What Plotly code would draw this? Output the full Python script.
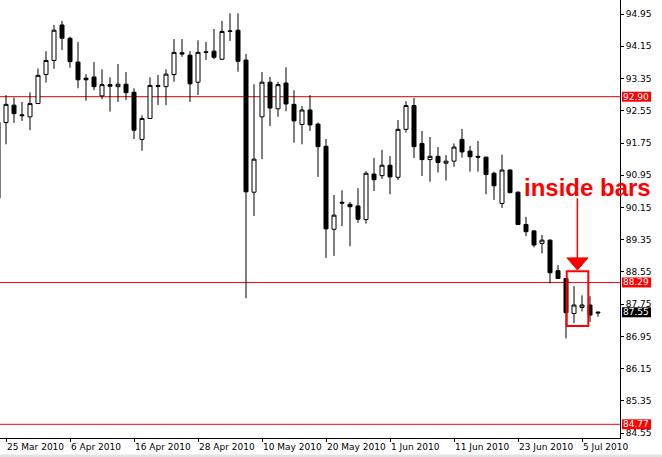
import pandas as pd
import plotly.graph_objects as go

# ---------------- data (USD/JPY daily) ----------------
dates = pd.bdate_range("2010-03-24", "2010-07-07")

opens = [90.38, 92.26, 92.69, 92.45, 92.40, 92.73, 93.45, 93.80, 94.68, 94.35,
         93.76, 93.36, 93.39, 92.92, 93.20, 93.15, 93.21, 93.01, 91.84, 92.36,
         93.18, 93.15, 93.45, 93.99, 93.93, 93.26, 94.00, 94.03, 93.83, 94.52,
         94.55, 93.81, 90.53, 92.40, 93.26, 92.60, 93.24, 92.71, 92.21, 92.57,
         92.22, 91.67, 89.61, 90.28, 90.23, 90.19, 89.85, 90.98, 90.94, 91.20,
         90.90, 92.09, 92.68, 91.74, 91.34, 91.42, 91.25, 91.30, 91.84, 91.55,
         91.42, 91.40, 91.00, 90.25, 91.08, 90.53, 89.73, 89.57, 89.26, 89.34,
         88.58, 88.39, 87.52, 87.67, 87.73, 87.53]
highs = [92.35, 92.94, 92.88, 92.77, 93.01, 93.60, 94.03, 94.68, 94.78, 94.39,
         94.26, 93.46, 93.76, 93.58, 93.38, 93.71, 93.51, 93.11, 92.44, 93.38,
         93.44, 93.58, 94.33, 94.33, 94.03, 94.30, 94.26, 94.58, 94.78, 94.97,
         94.97, 93.96, 93.21, 93.51, 93.39, 93.27, 93.63, 93.06, 92.67, 92.94,
         92.26, 91.85, 90.46, 90.58, 90.29, 90.63, 91.05, 91.38, 91.58, 91.43,
         92.32, 92.79, 92.87, 92.05, 91.90, 91.65, 91.45, 91.74, 92.10, 91.68,
         91.80, 91.41, 91.04, 91.46, 91.10, 90.55, 89.92, 89.58, 89.47, 89.36,
         88.72, 88.40, 88.20, 87.97, 87.95, 87.57]
lows = [90.30, 91.72, 92.25, 92.30, 92.07, 92.72, 93.25, 93.59, 94.06, 93.62,
        93.11, 92.80, 93.06, 92.84, 92.53, 92.77, 92.82, 91.85, 91.56, 92.35,
        92.69, 92.69, 93.27, 93.89, 92.77, 92.94, 93.81, 93.83, 93.81, 94.28,
        93.52, 87.90, 89.94, 91.35, 92.17, 92.40, 92.54, 91.76, 91.72, 92.05,
        90.91, 88.90, 88.95, 89.69, 89.19, 89.77, 89.75, 90.56, 90.86, 90.48,
        90.83, 92.01, 91.38, 90.93, 90.79, 91.02, 90.82, 91.16, 91.39, 91.04,
        91.04, 90.48, 90.34, 90.14, 90.50, 89.72, 89.44, 89.16, 89.01, 88.27,
        88.38, 86.90, 87.28, 87.57, 87.31, 87.44]
closes = [92.27, 92.71, 92.48, 92.43, 92.73, 93.43, 93.80, 94.55, 94.35, 93.77,
          93.32, 93.32, 93.15, 93.20, 93.16, 93.21, 93.00, 92.07, 92.36, 93.18,
          93.16, 93.46, 94.00, 93.96, 93.22, 94.00, 94.01, 93.88, 94.52, 94.53,
          93.78, 90.54, 91.35, 93.26, 92.62, 93.20, 92.72, 92.30, 92.57, 92.20,
          91.66, 89.62, 89.96, 90.26, 90.17, 89.86, 91.00, 90.84, 91.20, 90.91,
          92.09, 92.68, 91.66, 91.34, 91.42, 91.27, 91.30, 91.65, 91.53, 91.41,
          91.40, 90.97, 90.69, 91.08, 90.52, 89.73, 89.55, 89.22, 89.34, 88.53,
          88.39, 87.54, 87.73, 87.73, 87.48, 87.55]

tick_labels = ["25 Mar 2010", "6 Apr 2010", "16 Apr 2010", "28 Apr 2010",
               "10 May 2010", "20 May 2010", "1 Jun 2010", "11 Jun 2010",
               "23 Jun 2010", "5 Jul 2010"]
price_ticks = [84.55, 85.35, 86.15, 86.95, 87.75, 88.55, 89.35, 90.15,
               90.95, 91.75, 92.55, 93.35, 94.15, 94.95]
level_values = [92.90, 88.29, 84.77]
level_colors = ["#d40000", "#ff0000", "#ff0000"]

# ---------------- build ----------------
date_text = [f"{d.day} {d.strftime('%b %Y')}" for d in dates]
pos = list(range(len(dates)))
tick_pos = [date_text.index(t) for t in tick_labels]

FONT = "DejaVu Sans"

fig = go.Figure()
fig.add_trace(go.Candlestick(
    x=pos, open=opens, high=highs, low=lows, close=closes,
    increasing=dict(line=dict(color="black", width=1), fillcolor="white"),
    decreasing=dict(line=dict(color="black", width=1), fillcolor="black"),
    whiskerwidth=0, showlegend=False, hoverinfo="skip",
))

shapes = []
annotations = []

# horizontal levels + their price tags on the axis
LBL_H = 0.124
for v, c in zip(level_values, level_colors):
    shapes.append(dict(type="line", xref="paper", x0=0, x1=1, yref="y", y0=v, y1=v,
                       line=dict(color=c, width=1), layer="below"))
    shapes.append(dict(type="rect", xref="paper", x0=1.0032, x1=1.050,
                       yref="y", y0=v - LBL_H, y1=v + LBL_H,
                       fillcolor="#ff0000", line=dict(width=0), layer="above"))
    annotations.append(dict(xref="paper", x=1.0266, yref="y", y=v, text=f"{v:.2f}",
                            showarrow=False, xanchor="center", yanchor="middle",
                            font=dict(family=FONT, size=9, color="white")))

# current price tag
last = closes[-1]
shapes.append(dict(type="rect", xref="paper", x0=1.0032, x1=1.050,
                   yref="y", y0=last - LBL_H, y1=last + LBL_H,
                   fillcolor="black", line=dict(width=0), layer="above"))
annotations.append(dict(xref="paper", x=1.0266, yref="y", y=last, text=f"{last:.2f}",
                        showarrow=False, xanchor="center", yanchor="middle",
                        font=dict(family=FONT, size=9, color="white")))

# inside-bars box, arrow and caption
shapes.append(dict(type="rect", xref="x", yref="y", x0=71.09, x1=73.79, y0=87.21, y1=88.57,
                   line=dict(color="#ff0000", width=2), fillcolor="rgba(0,0,0,0)",
                   layer="above"))
shapes.append(dict(type="line", xref="x", yref="y", x0=72.42, x1=72.42, y0=90.38, y1=88.88,
                   line=dict(color="#ff0000", width=1.5), layer="above"))
shapes.append(dict(type="path", xref="x", yref="y",
                   path="M 71.12,88.90 L 73.75,88.90 L 72.43,88.60 Z",
                   fillcolor="#ff0000", line=dict(color="#ff0000", width=1), layer="above"))
annotations.append(dict(xref="x", yref="y", x=73.7, y=90.65, text="<b>inside bars</b>",
                        showarrow=False, xanchor="center", yanchor="middle",
                        font=dict(family="Liberation Sans", size=24, color="#ff0000")))

# window frame (light grey strip at bottom)
shapes.append(dict(type="line", xref="paper", yref="paper", x0=0, x1=1.07,
                   y0=-0.0411, y1=-0.0411, line=dict(color="#e3e3e3", width=3), layer="above"))

fig.update_layout(
    width=662, height=457,
    margin=dict(l=0, r=42, t=0, b=19, autoexpand=False),
    paper_bgcolor="white", plot_bgcolor="white",
    boxgap=0.5, boxgroupgap=0,
    showlegend=False,
    shapes=shapes, annotations=annotations,
    xaxis=dict(range=[0.25, 77.75], tickmode="array", tickvals=tick_pos, ticktext=tick_labels,
               tickangle=0, automargin=False,
               ticks="outside", ticklen=3, tickcolor="black", tickwidth=1,
               ticklabelposition="outside right",
               showgrid=False, zeroline=False, showline=True, linecolor="black", linewidth=1,
               rangeslider=dict(visible=False), fixedrange=True,
               tickfont=dict(family=FONT, size=9, color="black")),
    yaxis=dict(side="right", range=[84.43, 95.30], tickmode="array", tickvals=price_ticks,
               ticktext=[f"{t:.2f}" for t in price_ticks], automargin=False,
               ticks="outside", ticklen=3, tickcolor="black", tickwidth=1,
               showgrid=False, zeroline=False, showline=True, linecolor="black", linewidth=1,
               fixedrange=True,
               tickfont=dict(family=FONT, size=9, color="black")),
)

fig.write_html("out.html", config={"displayModeBar": False},
               post_script="document.body.style.margin='0';document.body.style.overflow='hidden';")
